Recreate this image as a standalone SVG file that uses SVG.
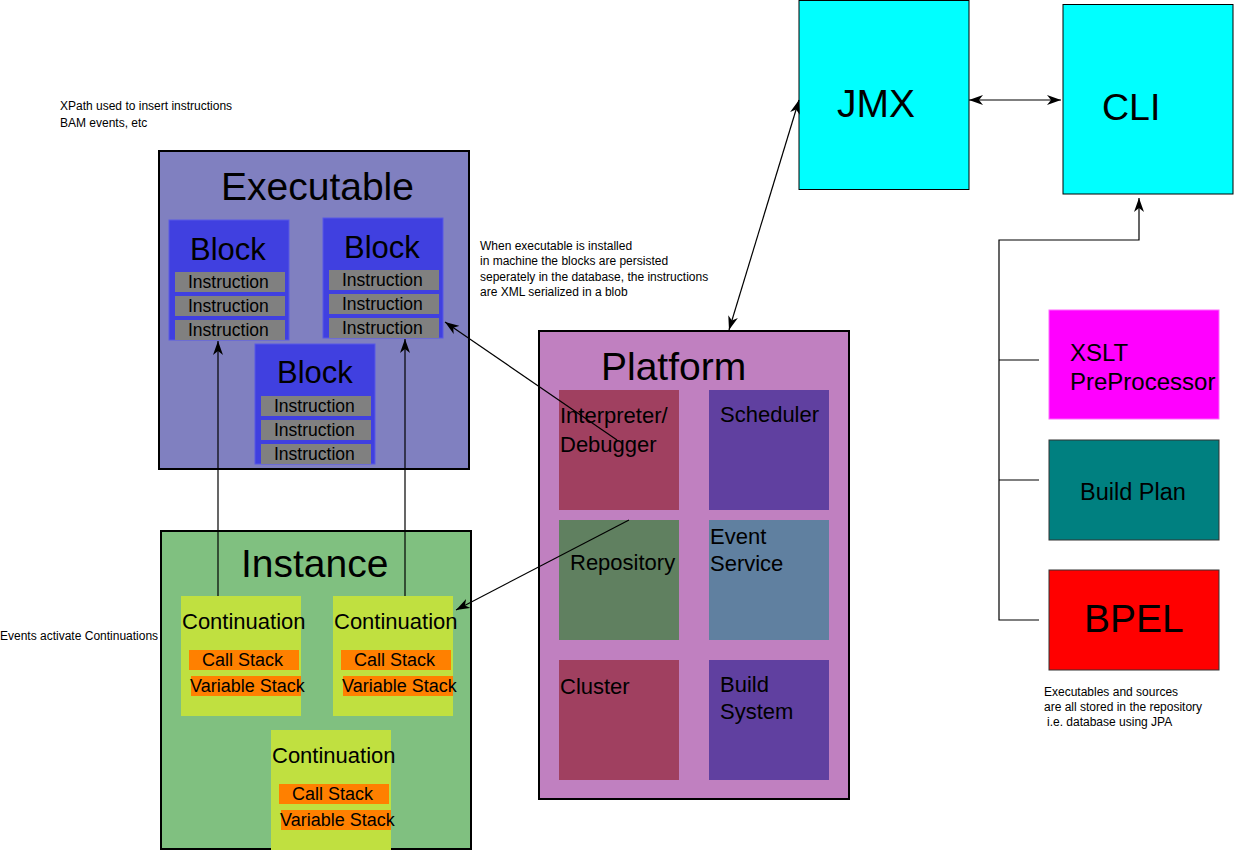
<svg xmlns="http://www.w3.org/2000/svg" width="1234" height="851" viewBox="0 0 1234 851">
<defs>
<style>
text{font-family:"Liberation Sans",Arial,sans-serif;fill:#000}
.big{font-size:39px}
.blk{font-size:31px}
.ins{font-size:17.5px}
.med{font-size:22px}
.stk{font-size:18px}
.note{font-size:12px}
.cont{fill:#C0E040}
.stack{fill:#FF8000}
.instr{fill:#808080}
.block{fill:#4040E0;stroke:#5858E6;stroke-width:1}
.conn{fill:none;stroke:#000;stroke-width:1.2}
</style>
<marker id="ah" viewBox="0 0 14 10" markerWidth="14" markerHeight="10" refX="14" refY="5" orient="auto-start-reverse" markerUnits="userSpaceOnUse">
<path d="M0,0 L14,5 L0,10 L4,5 Z" fill="#000"/>
</marker>
</defs>
<rect width="1234" height="851" fill="#fff"/>

<g id="note-xpath">
<text class="note" x="60" y="110">XPath used to insert instructions</text>
<text class="note" x="60" y="127">BAM events, etc</text>
</g>

<g id="executable">
<rect x="159" y="151" width="310" height="318" fill="#8080C0" stroke="#000" stroke-width="2"/>
<text class="big" x="221" y="200">Executable</text>
</g>
<g id="block1">
<rect class="block" x="169" y="220" width="120" height="120"/>
<text class="blk" x="190" y="260">Block</text>
<rect class="instr" x="175" y="272" width="110" height="20"/>
<rect class="instr" x="175" y="296" width="110" height="20"/>
<rect class="instr" x="175" y="320" width="110" height="20"/>
<text class="ins" x="188" y="288">Instruction</text>
<text class="ins" x="188" y="312">Instruction</text>
<text class="ins" x="188" y="336">Instruction</text>
</g>
<g id="block2">
<rect class="block" x="323" y="218" width="120" height="120"/>
<text class="blk" x="344" y="258">Block</text>
<rect class="instr" x="329" y="270" width="110" height="20"/>
<rect class="instr" x="329" y="294" width="110" height="20"/>
<rect class="instr" x="329" y="318" width="110" height="20"/>
<text class="ins" x="342" y="286">Instruction</text>
<text class="ins" x="342" y="310">Instruction</text>
<text class="ins" x="342" y="334">Instruction</text>
</g>
<g id="block3">
<rect class="block" x="255" y="344" width="120" height="120"/>
<text class="blk" x="277" y="383">Block</text>
<rect class="instr" x="261" y="396" width="110" height="20"/>
<rect class="instr" x="261" y="420" width="110" height="20"/>
<rect class="instr" x="261" y="444" width="110" height="20"/>
<text class="ins" x="274" y="412">Instruction</text>
<text class="ins" x="274" y="436">Instruction</text>
<text class="ins" x="274" y="460">Instruction</text>
</g>

<g id="note-installed">
<text class="note" x="480" y="250">When executable is installed</text>
<text class="note" x="480" y="265">in machine the blocks are persisted</text>
<text class="note" x="480" y="281">seperately in the database, the instructions</text>
<text class="note" x="480" y="296">are XML serialized in a blob</text>
</g>

<g id="note-events">
<text class="note" x="0" y="640">Events activate Continuations</text>
</g>

<g id="instance">
<rect x="161" y="531" width="310" height="318" fill="#80C080" stroke="#000" stroke-width="2"/>
<text class="big" x="241" y="577">Instance</text>
</g>
<g id="continuation1">
<rect class="cont" x="181" y="596" width="120" height="120"/>
<text class="med" x="182" y="629">Continuation</text>
<rect class="stack" x="189" y="650" width="110" height="20"/>
<rect class="stack" x="191" y="676" width="110" height="20"/>
<text class="stk" x="202" y="666">Call Stack</text>
<text class="stk" x="190" y="692">Variable Stack</text>
</g>
<g id="continuation2">
<rect class="cont" x="333" y="596" width="120" height="120"/>
<text class="med" x="334" y="629">Continuation</text>
<rect class="stack" x="341" y="650" width="110" height="20"/>
<rect class="stack" x="343" y="676" width="110" height="20"/>
<text class="stk" x="354" y="666">Call Stack</text>
<text class="stk" x="342" y="692">Variable Stack</text>
</g>
<g id="continuation3">
<rect class="cont" x="271" y="730" width="120" height="120"/>
<text class="med" x="272" y="763">Continuation</text>
<rect class="stack" x="279" y="784" width="110" height="20"/>
<rect class="stack" x="281" y="810" width="110" height="20"/>
<text class="stk" x="292" y="800">Call Stack</text>
<text class="stk" x="280" y="826">Variable Stack</text>
</g>

<g id="platform">
<rect x="539" y="331" width="310" height="468" fill="#C080C0" stroke="#000" stroke-width="2"/>
<text class="big" x="601" y="380">Platform</text>
</g>
<g id="interpreter">
<rect x="559" y="390" width="120" height="120" fill="#A04060"/>
<text class="med" x="560" y="423">Interpreter/</text>
<text class="med" x="560" y="452">Debugger</text>
</g>
<g id="scheduler">
<rect x="709" y="390" width="120" height="120" fill="#6040A0"/>
<text class="med" x="720" y="422">Scheduler</text>
</g>
<g id="repository">
<rect x="559" y="520" width="120" height="120" fill="#608060"/>
<text class="med" x="570" y="570">Repository</text>
</g>
<g id="event-service">
<rect x="709" y="520" width="120" height="120" fill="#6080A0"/>
<text class="med" x="710" y="544">Event</text>
<text class="med" x="710" y="571">Service</text>
</g>
<g id="cluster">
<rect x="559" y="660" width="120" height="120" fill="#A04060"/>
<text class="med" x="560" y="694">Cluster</text>
</g>
<g id="build-system">
<rect x="709" y="660" width="120" height="120" fill="#6040A0"/>
<text class="med" x="720" y="692">Build</text>
<text class="med" x="720" y="719">System</text>
</g>

<g id="jmx">
<rect x="799" y="0.5" width="170" height="189" fill="#00FFFF" stroke="#000" stroke-width="1"/>
<text class="big" x="837" y="117">JMX</text>
</g>
<g id="cli">
<rect x="1063" y="4.5" width="170" height="189.5" fill="#00FFFF" stroke="#000" stroke-width="1"/>
<text class="big" x="1102" y="120" style="font-size:37.5px">CLI</text>
</g>

<g id="xslt">
<rect x="1049" y="310" width="170" height="109" fill="#FF00FF" stroke="#FF66FF" stroke-width="1"/>
<text x="1070" y="361" style="font-size:24px">XSLT</text>
<text x="1070" y="390" style="font-size:24px">PreProcessor</text>
</g>
<g id="build-plan">
<rect x="1049" y="440" width="170" height="100" fill="#008080" stroke="#333" stroke-width="1"/>
<text x="1080" y="500" style="font-size:23.5px">Build Plan</text>
</g>
<g id="bpel">
<rect x="1049" y="570" width="170" height="100" fill="#FF0000" stroke="#333" stroke-width="1"/>
<text class="big" x="1084" y="632">BPEL</text>
</g>

<g id="note-repo">
<text class="note" x="1044" y="696">Executables and sources</text>
<text class="note" x="1044" y="711">are all stored in the repository</text>
<text class="note" x="1047" y="726">i.e. database using JPA</text>
</g>

<g id="connectors">
<line class="conn" x1="218" y1="596" x2="218" y2="341" marker-end="url(#ah)"/>
<line class="conn" x1="405" y1="596" x2="405" y2="339" marker-end="url(#ah)"/>
<line class="conn" x1="617" y1="440" x2="445" y2="322" marker-end="url(#ah)"/>
<line class="conn" x1="629" y1="520" x2="456" y2="610" marker-end="url(#ah)"/>
<line class="conn" x1="729" y1="330" x2="799" y2="100" marker-start="url(#ah)" marker-end="url(#ah)"/>
<line class="conn" x1="969" y1="100" x2="1061" y2="100" marker-start="url(#ah)" marker-end="url(#ah)"/>
<path class="conn" d="M1039,620 H999 V240 H1139 V198" marker-end="url(#ah)"/>
<path class="conn" d="M999,360 H1039 M999,480 H1039"/>
</g>
</svg>
